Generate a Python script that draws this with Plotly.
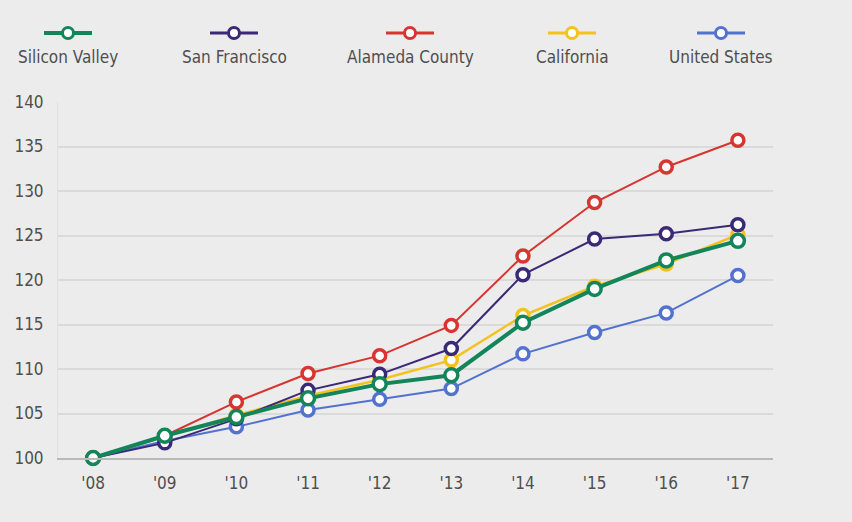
import plotly.graph_objects as go

# Index values (2008 = 100)
years = ["'08", "'09", "'10", "'11", "'12", "'13", "'14", "'15", "'16", "'17"]
silicon_valley = [100, 102.5, 104.6, 106.7, 108.3, 109.3, 115.2, 119.0, 122.2, 124.4]
san_francisco = [100, 101.7, 104.4, 107.6, 109.4, 112.3, 120.6, 124.6, 125.2, 126.2]
alameda_county = [100, 102.5, 106.3, 109.5, 111.5, 114.9, 122.7, 128.7, 132.7, 135.7]
california = [100, 102.4, 104.8, 107.0, 108.8, 111.0, 116.0, 119.3, 121.8, 125.1]
united_states = [100, 101.9, 103.5, 105.4, 106.6, 107.8, 111.7, 114.1, 116.3, 120.5]
y_ticks = [100, 105, 110, 115, 120, 125, 130, 135, 140]

GREEN = "#13855a"
PURPLE = "#3b2877"
RED = "#d7352f"
YELLOW = "#f4c21c"
BLUE = "#5172cf"
BG = "#ececec"
TEXT = "#4f4f4f"
FONT = "DejaVu Sans Condensed, Liberation Sans Narrow, sans-serif"

W, H = 852, 522
L, R, T, B = 58, 79, 102, 64

series = [
    ("United States", united_states, BLUE, 2, 12),
    ("California", california, YELLOW, 2.5, 12),
    ("San Francisco", san_francisco, PURPLE, 2, 12),
    ("Alameda County", alameda_county, RED, 2, 12),
    ("Silicon Valley", silicon_valley, GREEN, 4, 13),
]

fig = go.Figure()
for name, vals, color, lw, ms in series:
    fig.add_trace(go.Scatter(
        x=years, y=vals, name=name, mode="lines+markers",
        line=dict(color=color, width=lw),
        marker=dict(symbol="circle", size=ms, color="white",
                    line=dict(color=color, width=3.5)),
        cliponaxis=False, showlegend=False,
    ))

# Custom legend: glyph above each label
pw, ph = W - L - R, H - T - B


def px_to_paper(px, py):
    return (px - L) / pw, (H - B - py) / ph


legend_items = [
    ("Silicon Valley", GREEN, 68, 4),
    ("San Francisco", PURPLE, 234, 3),
    ("Alameda County", RED, 410, 3),
    ("California", YELLOW, 572, 3),
    ("United States", BLUE, 721, 3),
]
shapes = []
annotations = []
for label, color, cx, lw in legend_items:
    xa, ya = px_to_paper(cx, 33)
    shapes.append(dict(type="line", xref="paper", yref="paper",
                       xsizemode="pixel", ysizemode="pixel",
                       xanchor=xa, yanchor=ya, x0=-24, x1=24, y0=0, y1=0,
                       line=dict(color=color, width=lw)))
    shapes.append(dict(type="circle", xref="paper", yref="paper",
                       xsizemode="pixel", ysizemode="pixel",
                       xanchor=xa, yanchor=ya, x0=-5.5, x1=5.5, y0=-5.5, y1=5.5,
                       fillcolor="white", line=dict(color=color, width=3)))
    tx, ty = px_to_paper(cx, 57)
    annotations.append(dict(text=label, xref="paper", yref="paper", x=tx, y=ty,
                            xanchor="center", yanchor="middle", showarrow=False,
                            font=dict(family=FONT, size=17, color=TEXT)))

fig.update_layout(
    width=W, height=H,
    margin=dict(l=L, r=R, t=T, b=B),
    paper_bgcolor=BG, plot_bgcolor=BG,
    shapes=shapes, annotations=annotations,
    font=dict(family=FONT, size=17, color=TEXT),
    xaxis=dict(
        type="category", range=[-0.49, 9.49],
        showgrid=False, zeroline=False,
        showline=True, linecolor="#b9b9b9", linewidth=2,
        ticks="", ticklabelstandoff=9,
        tickfont=dict(family=FONT, size=17, color=TEXT),
    ),
    yaxis=dict(
        range=[100, 140], tickvals=y_ticks,
        showgrid=True, gridcolor="#dadada", gridwidth=2,
        zeroline=False, showline=True, linecolor="#e0e0e0", linewidth=1,
        ticks="", ticklabelstandoff=10,
        tickfont=dict(family=FONT, size=17, color=TEXT),
    ),
)

fig.write_html("out.html")
